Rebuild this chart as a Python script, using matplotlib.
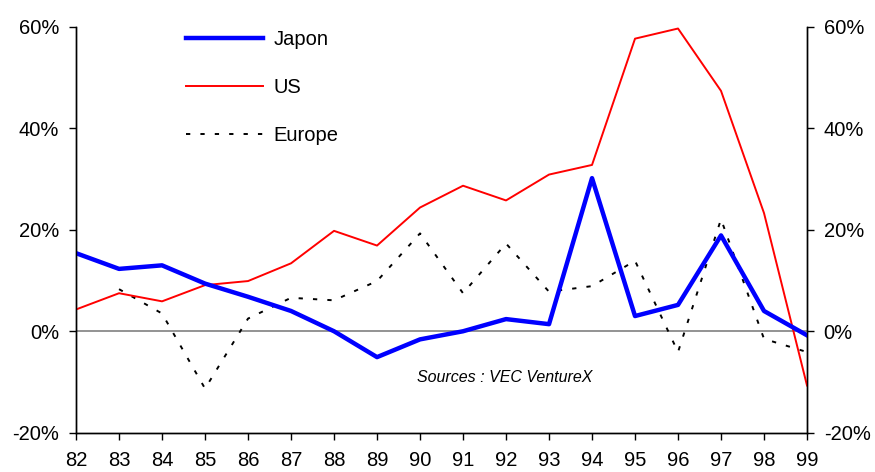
import matplotlib
matplotlib.use("Agg")
import matplotlib.pyplot as plt
from matplotlib.ticker import FuncFormatter

plt.rcParams['font.family'] = ['Liberation Sans', 'DejaVu Sans']
plt.rcParams['axes.linewidth'] = 1.0

# --- data ---
years = [82, 83, 84, 85, 86, 87, 88, 89, 90, 91, 92, 93, 94, 95, 96, 97, 98, 99]
japon = [15.4, 12.3, 13.0, 9.4, 6.8, 4.0, 0.0, -5.1, -1.6, 0.0, 2.4, 1.4, 30.2, 3.0, 5.2, 18.9, 4.0, -0.8]
us = [4.3, 7.5, 5.9, 9.1, 9.9, 13.4, 19.8, 16.9, 24.4, 28.7, 25.8, 30.9, 32.8, 57.7, 59.7, 47.4, 23.3, -10.7]
europe_years = years[1:]
europe = [8.3, 3.5, -11.3, 2.5, 6.6, 6.1, 9.9, 19.3, 7.5, 17.3, 7.8, 8.9, 13.9, -4.1, 22.1, -1.5, -4.1]

yticks = [-20, 0, 20, 40, 60]
fs = 14.5

fig = plt.figure(figsize=(8.75, 4.72), dpi=100)
ax = fig.add_axes([0.0869, 0.0833, 0.8354, 0.8595])

ax.axhline(0, color='#808080', linewidth=1.2, zorder=1)
ax.plot(europe_years, europe, color='black', linewidth=1.4, dashes=(2.2, 5.2), label='Europe', zorder=2)
ax.plot(years, us, color='#ff0000', linewidth=1.4, label='US', zorder=3)
ax.plot(years, japon, color='#0000ff', linewidth=3.2, label='Japon', zorder=4)

ax.set_xlim(82, 99)
ax.set_ylim(-20, 60)
ax.set_xticks(years)
ax.set_xticklabels([str(y) for y in years])
ax.set_yticks(yticks)
pct = FuncFormatter(lambda v, p: f"{v:.0f}%")
ax.yaxis.set_major_formatter(pct)

ax.spines['top'].set_visible(False)
ax.tick_params(axis='x', direction='out', length=5, width=1, labelsize=fs, pad=8)
ax.tick_params(axis='y', direction='out', length=5, width=1, labelsize=fs, pad=7)

# right axis mirrors the left one
ax2 = ax.twinx()
ax2.set_ylim(-20, 60)
ax2.set_yticks(yticks)
ax2.yaxis.set_major_formatter(pct)
ax2.spines['top'].set_visible(False)
ax2.tick_params(axis='y', direction='out', length=5, width=1, labelsize=fs, pad=7)

handles, labels = ax.get_legend_handles_labels()
order = [2, 1, 0]
ax.legend([handles[i] for i in order], [labels[i] for i in order],
          loc='upper left', bbox_to_anchor=(0.2126, 0.937), bbox_transform=fig.transFigure,
          frameon=False, fontsize=fs, handlelength=3.8, handletextpad=0.55,
          labelspacing=1.45, borderpad=0, borderaxespad=0)

fig.text(505 / 875, 1 - 378 / 472, "Sources : VEC VentureX", fontsize=11.5,
         style='italic', ha='center', va='center')

fig.savefig("out.png", dpi=100)
